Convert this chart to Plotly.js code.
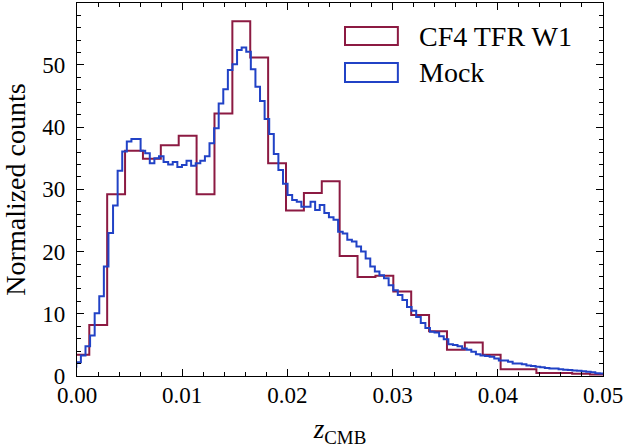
<!DOCTYPE html>
<html>
<head>
<meta charset="utf-8">
<script src="https://cdn.plot.ly/plotly-3.0.1.min.js"></script>
<style>html,body{margin:0;padding:0;background:#fff;}#chart{width:628px;height:448px;}</style>
</head>
<body>
<div id="chart"></div>
<script>
// Series names
const seriesNames = ["CF4 TFR W1", "Mock"];

// CF4 TFR W1 histogram (30 bins)
const cf4BinStart = -0.000532;
const cf4BinWidth = 0.0017;
const cf4Counts = [3.4, 8.2, 29.2, 36.2, 34.9, 37.1, 38.6, 29.2, 42.2, 57.0,
                   51.2, 34.2, 26.6, 29.4, 31.3, 19.3, 15.9, 16.1, 13.6, 9.8,
                   7.2, 4.2, 5.4, 3.4, 1.1, 1.1, 0.5, 0.5, 0.35, 0.25];

// Mock histogram (117 bins)
const mockBinStart = -0.000503;
const mockBinWidth = 0.0004366;
const mockCounts = [1.5, 2.2, 3.3, 4.8, 6.5, 10.1, 12.8, 17.6, 23.0, 27.4,
  33.0, 36.1, 37.7, 38.1, 38.1, 36.2, 35.8, 34.2, 35.0, 35.3,
  34.4, 34.0, 34.4, 33.6, 33.9, 34.6, 33.8, 34.2, 34.6, 35.3,
  37.4, 39.8, 43.8, 46.1, 49.2, 50.1, 52.4, 52.8, 52.1, 49.3,
  46.5, 44.2, 41.3, 38.9, 35.7, 33.1, 30.9, 29.1, 28.3, 28.0,
  27.2, 27.2, 28.0, 26.7, 27.5, 26.2, 25.5, 25.1, 23.2, 22.9,
  21.9, 21.6, 20.8, 20.0, 18.9, 17.6, 16.8, 16.2, 15.7, 14.6,
  13.8, 13.0, 12.2, 11.1, 10.5, 9.5, 8.5, 7.7, 7.1, 7.0,
  6.4, 5.9, 5.1, 5.0, 4.8, 4.4, 4.2, 3.9, 3.5, 3.3,
  3.2, 3.1, 2.8, 2.5, 2.5, 2.3, 2.0, 2.0, 1.9, 1.7,
  1.6, 1.5, 1.4, 1.3, 1.2, 1.2, 1.1, 1.0, 0.95, 0.9,
  0.85, 0.75, 0.7, 0.6, 0.45, 0.4, 0.3];

// Axis ticks
const xTickVals = [0.00, 0.01, 0.02, 0.03, 0.04, 0.05];
const xTickText = ["0.00", "0.01", "0.02", "0.03", "0.04", "0.05"];
const yTickVals = [0, 10, 20, 30, 40, 50];
const yTickText = ["0", "10", "20", "30", "40", "50"];

const red = "#8C1A42";
const blue = "#2142C6";
const serif = "Liberation Serif, Times New Roman, serif";

function stepXY(start, width, counts) {
  const xs = [], ys = [];
  for (let i = 0; i < counts.length; i++) {
    xs.push(start + i * width); ys.push(counts[i]);
  }
  xs.push(start + counts.length * width); ys.push(counts[counts.length - 1]);
  return {xs, ys};
}

const c = stepXY(cf4BinStart, cf4BinWidth, cf4Counts);
const m = stepXY(mockBinStart, mockBinWidth, mockCounts);

const traces = [
  {x: c.xs, y: c.ys, type: "scatter", mode: "lines", line: {shape: "hv", color: red, width: 2}, name: seriesNames[0], showlegend: false},
  {x: m.xs, y: m.ys, type: "scatter", mode: "lines", line: {shape: "hv", color: blue, width: 2}, name: seriesNames[1], showlegend: false}
];

const axisCommon = {
  showline: true, linecolor: "#000", linewidth: 1.2, mirror: "allticks",
  ticks: "inside", ticklen: 7, tickwidth: 1.1, tickcolor: "#000",
  showgrid: false, zeroline: false,
  tickfont: {family: serif, size: 23, color: "#000"}
};

const layout = {
  width: 628, height: 448,
  margin: {l: 77, r: 25, t: 3, b: 72},
  paper_bgcolor: "#fff", plot_bgcolor: "#fff",
  showlegend: false,
  xaxis: Object.assign({}, axisCommon, {
    range: [0, 0.05], tickvals: xTickVals, ticktext: xTickText,
    minor: {ticks: "inside", ticklen: 4, tickwidth: 1, tickcolor: "#000", dtick: 0.002, tick0: 0},
    ticklabelstandoff: -2,
    title: {text: "<i>z</i><sub>CMB</sub>", font: {family: serif, size: 27, color: "#000"}, standoff: 18}
  }),
  yaxis: Object.assign({}, axisCommon, {
    range: [0, 59.95], tickvals: yTickVals, ticktext: yTickText,
    minor: {ticks: "inside", ticklen: 4, tickwidth: 1, tickcolor: "#000", dtick: 2, tick0: 0},
    ticklabelstandoff: 6,
    title: {text: "Normalized counts", font: {family: serif, size: 28, color: "#000"}, standoff: 8}
  }),
  shapes: [
    {type: "rect", xref: "paper", yref: "paper", x0: 0.5095, x1: 0.610, y0: 0.8874, y1: 0.9357, line: {color: red, width: 2}, fillcolor: "rgba(0,0,0,0)"},
    {type: "rect", xref: "paper", yref: "paper", x0: 0.5095, x1: 0.610, y0: 0.788, y1: 0.839, line: {color: blue, width: 2}, fillcolor: "rgba(0,0,0,0)"}
  ],
  annotations: [
    {xref: "paper", yref: "paper", x: 0.646, y: 0.9115, xanchor: "left", yanchor: "middle", text: seriesNames[0], showarrow: false, font: {family: serif, size: 28, color: "#000"}},
    {xref: "paper", yref: "paper", x: 0.646, y: 0.815, xanchor: "left", yanchor: "middle", text: seriesNames[1], showarrow: false, font: {family: serif, size: 28, color: "#000"}}
  ]
};

Plotly.newPlot("chart", traces, layout, {displayModeBar: false, staticPlot: true});
</script>
</body>
</html>
